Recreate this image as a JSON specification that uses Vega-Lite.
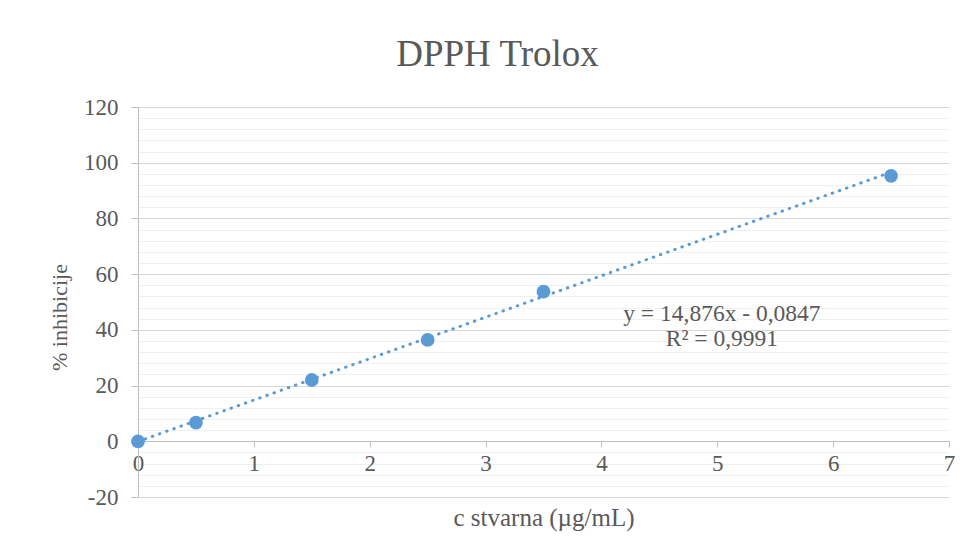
{
  "$schema": "https://vega.github.io/schema/vega-lite/v6.json",
  "width": 811,
  "height": 390,
  "autosize": {"type": "none"},
  "padding": {"left": 138, "top": 107, "right": 25, "bottom": 61},
  "background": "white",
  "title": {
    "text": "DPPH Trolox",
    "font": "Liberation Serif",
    "fontSize": 37,
    "fontWeight": "normal",
    "color": "#595959",
    "anchor": "middle",
    "frame": "group",
    "dx": -46,
    "offset": 22
  },
  "config": {
    "view": {"stroke": null},
    "font": "Liberation Serif",
    "axis": {
      "labelFont": "Liberation Serif",
      "titleFont": "Liberation Serif",
      "labelColor": "#595959",
      "titleColor": "#595959",
      "labelFontSize": 23,
      "titleFontSize": 22,
      "titleFontWeight": "normal",
      "domainColor": "#bfbfbf",
      "tickColor": "#bfbfbf",
      "labelFlush": false,
      "labelExpr": "replace(datum.label, '−', '-')"
    }
  },
  "datasets": {
    "points": [
      {"c": 0, "y": 0},
      {"c": 0.5, "y": 6.7},
      {"c": 1.5, "y": 22.0},
      {"c": 2.5, "y": 36.4},
      {"c": 3.5, "y": 53.7},
      {"c": 6.5, "y": 95.3}
    ],
    "trend": [
      {"c": 0, "y": -0.0847},
      {"c": 6.5, "y": 96.61}
    ],
    "label": [
      {"c": 5.04, "y": 45.6, "t": "y = 14,876x - 0,0847"},
      {"c": 5.04, "y": 36.6, "t": "R² = 0,9991"}
    ]
  },
  "layer": [
    {
      "data": {"name": "trend"},
      "mark": {"type": "line", "color": "#5b9bd5", "strokeWidth": 3, "strokeDash": [0.5, 7.1], "strokeCap": "round"},
      "encoding": {
        "x": {"field": "c", "type": "quantitative", "scale": {"domain": [0, 7], "nice": false},
          "axis": {"title": "c stvarna (µg/mL)", "titleFontSize": 25, "values": [0, 1, 2, 3, 4, 5, 6, 7], "grid": false, "offset": -56, "tickSize": 6, "labelPadding": 5, "titlePadding": 30}},
        "y": {"field": "y", "type": "quantitative", "scale": {"domain": [-20, 120], "nice": false},
          "axis": {"orient": "right", "title": null, "labels": false, "ticks": false, "domain": false, "grid": true, "gridColor": "#f0f0f0",
            "values": [-16, -12, -8, -4, 4, 8, 12, 16, 24, 28, 32, 36, 44, 48, 52, 56, 64, 68, 72, 76, 84, 88, 92, 96, 104, 108, 112, 116]}}
      }
    },
    {
      "data": {"name": "points"},
      "mark": {"type": "circle", "color": "#5b9bd5", "opacity": 1, "size": 190},
      "encoding": {
        "x": {"field": "c", "type": "quantitative", "scale": {"domain": [0, 7], "nice": false},
          "axis": {"title": "c stvarna (µg/mL)", "titleFontSize": 25, "values": [0, 1, 2, 3, 4, 5, 6, 7], "grid": false, "offset": -56, "tickSize": 6, "labelPadding": 5, "titlePadding": 30}},
        "y": {"field": "y", "type": "quantitative", "scale": {"domain": [-20, 120], "nice": false},
          "axis": {"orient": "left", "title": "% inhibicije", "values": [-20, 0, 20, 40, 60, 80, 100, 120], "grid": true, "gridColor": "#d9d9d9", "tickSize": 7, "labelPadding": 13, "titlePadding": 12, "titleY": 210}}
      }
    },
    {
      "data": {"name": "label"},
      "mark": {"type": "text", "font": "Liberation Serif", "fontSize": 23.5, "color": "#595959", "align": "center", "baseline": "middle"},
      "encoding": {
        "x": {"field": "c", "type": "quantitative", "scale": {"domain": [0, 7], "nice": false},
          "axis": {"title": "c stvarna (µg/mL)", "titleFontSize": 25, "values": [0, 1, 2, 3, 4, 5, 6, 7], "grid": false, "offset": -56, "tickSize": 6, "labelPadding": 5, "titlePadding": 30}},
        "y": {"field": "y", "type": "quantitative", "scale": {"domain": [-20, 120], "nice": false}, "axis": null},
        "text": {"field": "t"}
      }
    }
  ],
  "resolve": {"axis": {"y": "independent"}}
}
